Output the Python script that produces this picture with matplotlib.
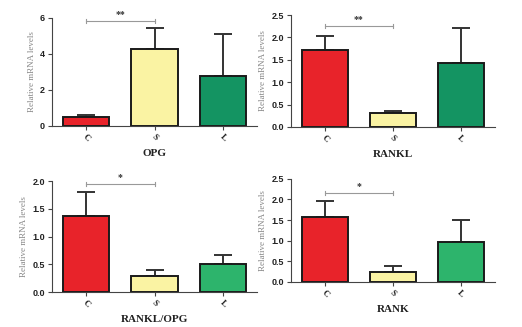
import matplotlib
matplotlib.use("Agg")
from matplotlib import pyplot as plt

groups = ["C", "S", "L"]

opg_mean = [0.5, 4.25, 2.75]
opg_err = [0.1, 1.2, 2.35]

rankl_mean = [1.72, 0.3, 1.42]
rankl_err = [0.31, 0.05, 0.78]

ratio_mean = [1.38, 0.28, 0.51]
ratio_err = [0.42, 0.12, 0.16]

rank_mean = [1.58, 0.24, 0.96]
rank_err = [0.38, 0.14, 0.55]

red = "#e8232a"
yellow = "#faf3a3"
green_dark = "#149462"
green_light = "#2db46c"

panels = [
    # title, means, errs, ylim, yticks, fmt, stars, sig height, green, axes rect
    ("OPG", opg_mean, opg_err, 6, [0, 2, 4, 6], "{:.0f}", "**", 5.85, green_dark,
     [0.0996, 0.615, 0.393, 0.330]),
    ("RANKL", rankl_mean, rankl_err, 2.5, [0, 0.5, 1.0, 1.5, 2.0, 2.5], "{:.1f}", "**", 2.25, green_dark,
     [0.557, 0.612, 0.391, 0.342]),
    ("RANKL/OPG", ratio_mean, ratio_err, 2.0, [0, 0.5, 1.0, 1.5, 2.0], "{:.1f}", "*", 1.95, green_light,
     [0.0996, 0.107, 0.393, 0.339]),
    ("RANK", rank_mean, rank_err, 2.5, [0, 0.5, 1.0, 1.5, 2.0, 2.5], "{:.1f}", "*", 2.15, green_light,
     [0.557, 0.138, 0.391, 0.315]),
]

fig = plt.figure(figsize=(5.22, 3.27), dpi=100)

for title, means, errs, ymax, yticks, fmt, stars, sig_y, green, rect in panels:
    ax = fig.add_axes(rect)
    xs = list(range(len(groups)))
    ax.bar(xs, means, width=0.68, color=[red, yellow, green],
           edgecolor="#1a1a1a", linewidth=1.4, zorder=2)
    # only upper error bars, like GraphPad
    ax.errorbar(xs, means, yerr=[[0] * len(errs), errs], fmt="none",
                ecolor="#333333", elinewidth=1.4, capsize=6.5, capthick=1.4, zorder=1)
    # significance bracket between C and S
    ax.plot([0, 1], [sig_y, sig_y], color="#999999", lw=0.8, clip_on=False)
    ax.plot([0, 0], [sig_y - ymax * 0.02, sig_y + ymax * 0.02], color="#999999", lw=0.8, clip_on=False)
    ax.plot([1, 1], [sig_y - ymax * 0.02, sig_y + ymax * 0.02], color="#999999", lw=0.8, clip_on=False)
    ax.text(0.5, sig_y + ymax * 0.02, stars, ha="center", va="bottom", fontsize=7,
            fontweight="bold", color="#333333", fontfamily="Liberation Serif")

    ax.set_xlim(-0.5, 2.5)
    ax.set_ylim(0, ymax)
    ax.set_yticks(yticks)
    ax.set_yticklabels([fmt.format(v) for v in yticks], fontsize=6.5, fontweight="bold",
                       fontfamily="Liberation Sans", color="#222222")
    ax.set_xticks(xs)
    ax.set_xticklabels(groups, rotation=-45, fontsize=6.5, fontweight="bold",
                       fontfamily="Liberation Serif", color="#222222")
    ax.set_xlabel(title, fontsize=8, fontweight="bold", fontfamily="Liberation Serif",
                  color="#222222", labelpad=4)
    ax.set_ylabel("Relative mRNA levels", fontsize=6.5, fontfamily="Liberation Serif",
                  color="#888888", labelpad=3)
    for s in ["top", "right"]:
        ax.spines[s].set_visible(False)
    ax.spines["left"].set_color("#444444")
    ax.spines["bottom"].set_color("#444444")
    ax.tick_params(length=3, width=0.8, colors="#444444", pad=2)
    for lab in ax.get_xticklabels() + ax.get_yticklabels():
        lab.set_color("#222222")

fig.savefig("out.png", dpi=100)
